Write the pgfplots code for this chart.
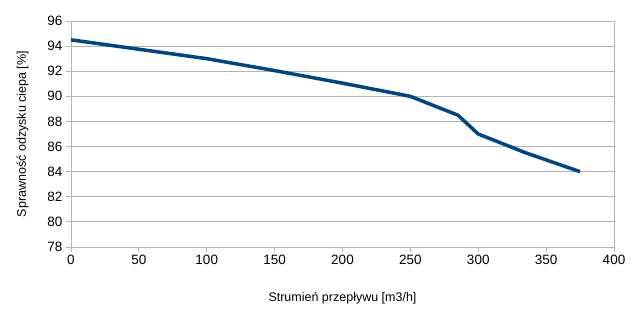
\documentclass[border=0pt]{standalone}
\usepackage{pgfplots}
\pgfplotsset{compat=1.18}
\usepackage{fontspec}
\setmainfont{Liberation Sans}
\definecolor{lineblue}{HTML}{004586}
\definecolor{gridgray}{HTML}{B3B3B3}
\begin{document}
\begin{tikzpicture}
\begin{axis}[
  at={(0,0)}, anchor=south west,
  scale only axis, width=543pt, height=226pt,
  xmin=0, xmax=400, ymin=78, ymax=96,
  xtick={0,50,...,400}, ytick={78,80,...,96},
  ymajorgrids, major grid style={gridgray, line width=0.8pt},
  axis line style={gridgray, line width=0.8pt},
  tick style={gridgray, line width=0.8pt},
  tick align=outside, major tick length=5pt,
  xtick pos=bottom, ytick pos=left,
  /pgf/number format/assume math mode=true,
  ticklabel style={font=\fontsize{13.5}{15}\selectfont, black},
  label style={font=\fontsize{12.5}{15}\selectfont, black},
  xlabel={Strumień przepływu [m3/h]},
  ylabel={Sprawność odzysku ciepa [\%]},
  xlabel style={yshift=-20pt},
  ylabel style={yshift=12pt},
]
\addplot[lineblue, line width=3.5pt, line join=round] coordinates {
  (0,94.5) (100,93) (150,92.05) (200,91.05) (250,90) (285,88.5) (300,87) (335,85.5) (375,84)
};
\end{axis}
\pgfresetboundingbox
\path[use as bounding box] (-71pt,-71pt) rectangle (573pt,247pt);
\end{tikzpicture}
\end{document}
